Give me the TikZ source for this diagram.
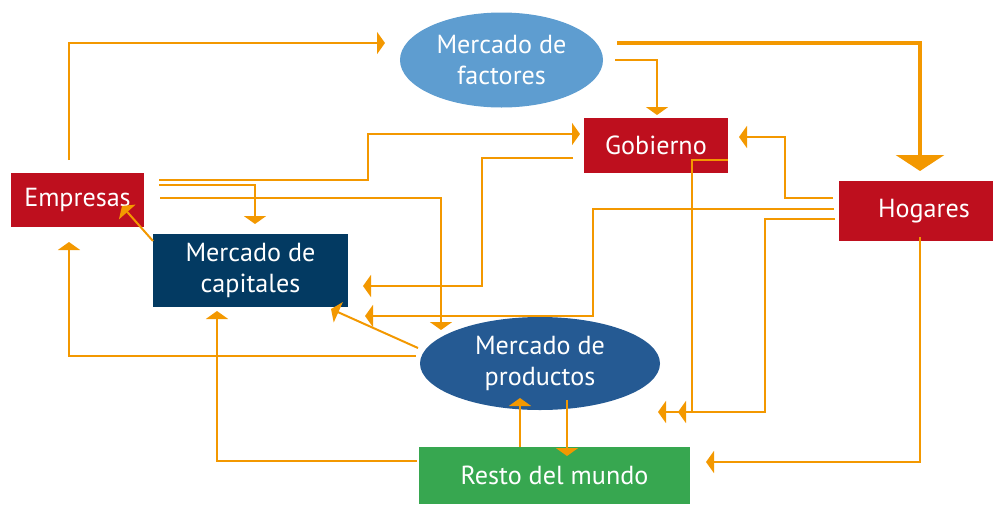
\documentclass[tikz,border=0pt]{standalone}
\usepackage{fontspec}
\setmainfont{PT Sans}
\usetikzlibrary{arrows.meta,shapes.geometric}
\definecolor{flowc}{HTML}{F39800}
\definecolor{redbox}{HTML}{BE0F1E}
\definecolor{lightblue}{HTML}{5E9DD0}
\definecolor{navybox}{HTML}{033A62}
\definecolor{midblue}{HTML}{255A93}
\definecolor{greenbox}{HTML}{37A750}
\begin{document}
\begin{tikzpicture}[x=0.75pt,y=-0.75pt,
  box/.style={rectangle, inner sep=0pt, text=white, align=center,
    font=\fontsize{19.6}{23.5}\selectfont},
  oval/.style={ellipse, inner sep=0pt, text=white, align=center,
    font=\fontsize{19.6}{23.5}\selectfont},
  flow/.style={draw=flowc, line width=1.5pt,
    -{Triangle[width=16.5pt,length=6pt]}},
  bigflow/.style={draw=flowc, line width=2.6pt,
    -{Triangle[width=36pt,length=12pt]}}]
\useasboundingbox (0,0) rectangle (993,504);

\node[oval, fill=lightblue, minimum width=152.25pt, minimum height=71.25pt] (fac) at (501.5,60) {Mercado de\\factores};
\node[box, fill=redbox, minimum width=108pt, minimum height=41.25pt] (gob) at (656,145.5) {Gobierno};
\node[box, fill=redbox, minimum width=115.5pt, minimum height=45pt] (hog) at (916,211) {\hspace*{12pt}Hogares};
\node[box, fill=redbox, minimum width=99.75pt, minimum height=40.5pt] (emp) at (77.5,200) {Empresas};
\node[box, fill=navybox, minimum width=146.25pt, minimum height=54.75pt] (cap) at (250.5,270.5) {Mercado de\\capitales};
\node[oval, fill=midblue, minimum width=180pt, minimum height=69.75pt] (prod) at (540,363.5) {Mercado de\\productos};
\node[box, fill=greenbox, minimum width=203.25pt, minimum height=42.75pt] (rest) at (554.5,475.5) {Resto del mundo};

% Empresas -> factores
\draw[flow] (69,160) |- (385,43);
% factores -> Hogares
\draw[bigflow] (617,43) -| (920,171);
% factores -> Gobierno
\draw[flow] (615,60) -| (657,115);
% Empresas -> Gobierno
\draw[flow] (159,180) -- (368,180) |- (580,134);
% Gobierno -> capitales
\draw[flow] (573,158) -- (482,158) |- (363,286);
% Empresas -> capitales
\draw[flow] (159,185) -| (255,224);
% Empresas -> productos
\draw[flow] (160,198) -| (441,330);
% capitales -> Empresas
\draw[flow] (153,241) -- (122,206);
% productos -> capitales
\draw[flow] (418,348) -- (331,309);
% productos -> Empresas
\draw[flow] (416,356) -| (69,242);
% Hogares -> Gobierno
\draw[flow] (833,198) -- (785,198) |- (739,137);
% Hogares -> capitales
\draw[flow] (834,209) -- (593,209) |- (365,316);
% Gobierno -> productos
\draw[flow] (728,160) -- (692,160) |- (678,412);
% Hogares -> productos
\draw[flow] (835,219) -- (765,219) |- (658,412);
% Hogares -> Resto
\draw[flow] (920,237) |- (706,462);
% Resto -> productos
\draw[flow] (520,447) -- (520,398);
% productos -> Resto
\draw[flow] (567,400) -- (567,456);
% Resto -> capitales
\draw[flow] (417,461) -| (217,311);
\end{tikzpicture}
\end{document}
